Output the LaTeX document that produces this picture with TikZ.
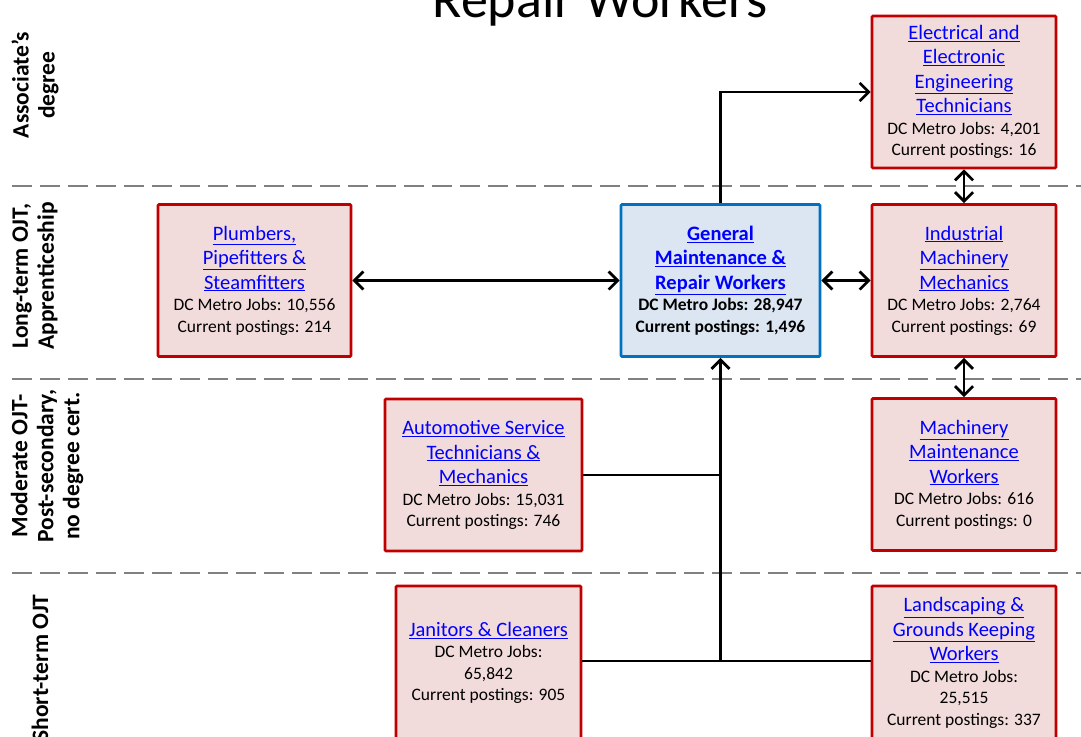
\documentclass[tikz,border=0pt]{standalone}
\usepackage{fontspec}
\setmainfont{Carlito}
\usetikzlibrary{arrows.meta}
\definecolor{jobfill}{HTML}{F2DCDB}
\definecolor{jobline}{HTML}{C00000}
\definecolor{corefill}{HTML}{DCE6F2}
\definecolor{coreline}{HTML}{0070C0}
\definecolor{linkblue}{HTML}{0000FF}
\definecolor{bandgray}{HTML}{808080}
\newcommand{\lnk}[1]{\textcolor{linkblue}{\underline{#1}}}
\newcommand{\namefont}{\fontsize{20.5}{24.5}\selectfont}
\newcommand{\numfont}{\fontsize{17.5}{22}\selectfont}
\tikzset{
  job/.style={draw=jobline,fill=jobfill,line width=2.6pt,rounded corners=1pt,
    minimum width=184pt,minimum height=152pt,align=center,inner sep=2pt,font=\namefont},
  core/.style={job,draw=coreline,fill=corefill,font=\namefont\bfseries},
  tier/.style={rotate=90,align=center,font=\fontsize{23.5}{26}\selectfont\bfseries},
  band/.style={draw=bandgray,line width=2.8pt,dash pattern=on 20pt off 8pt},
  link/.style={line width=2.8pt},
  >={Straight Barb[length=9pt,width=18pt,line width=2.8pt]}
}
\begin{document}
\begin{tikzpicture}[x=1pt,y=-1pt]
    \useasboundingbox (0,0) rectangle (1081,736);
    %% title (only its last line shows)
    \node[anchor=base,font=\fontsize{54}{60}\selectfont] (title) at (600,17) {Repair Workers};
    %% education bands
    \draw[band] (12,186) -- (1081,186);
    \draw[band] (12,379) -- (1081,379);
    \draw[band] (12,573) -- (1081,573);
    \node[tier] (assoc) at (35,85) {Associate’s\\degree};
    \node[tier] (longojt) at (35,276) {Long-term OJT,\\Apprenticeship};
    \node[tier] (modojt) at (47,466) {Moderate OJT-\\Post-secondary,\\no degree cert.};
    \node[tier] (shortojt) at (40,668) {Short-term OJT};
    %% occupations
    \node[job] (elec) at (964,92) {\lnk{Electrical and}\\\lnk{Electronic}\\\lnk{Engineering}\\\lnk{Technicians}\\[-3pt]\numfont DC Metro Jobs: 4,201\\[-3pt]\numfont Current postings: 16};
    \node[job,minimum width=193pt] (plumb) at (254.5,280.5) {\lnk{Plumbers,}\\\lnk{Pipefitters \&}\\\lnk{Steamfitters}\\[-3pt]\numfont DC Metro Jobs: 10,556\\[-3pt]\numfont Current postings: 214};
    \node[core,minimum width=199pt] (gen) at (720.5,280.5) {\lnk{General}\\\lnk{Maintenance \&}\\\lnk{Repair Workers}\\[-3pt]\numfont DC Metro Jobs: 28,947\\[-3pt]\numfont Current postings: 1,496};
    \node[job] (indus) at (964,280.5) {\lnk{Industrial}\\\lnk{Machinery}\\\lnk{Mechanics}\\[-3pt]\numfont DC Metro Jobs: 2,764\\[-3pt]\numfont Current postings: 69};
    \node[job,minimum width=197pt] (auto) at (483.5,475) {\lnk{Automotive Service}\\\lnk{Technicians \&}\\\lnk{Mechanics}\\[-3pt]\numfont DC Metro Jobs: 15,031\\[-3pt]\numfont Current postings: 746};
    \node[job] (mach) at (964,474.5) {\lnk{Machinery}\\\lnk{Maintenance}\\\lnk{Workers}\\[-3pt]\numfont DC Metro Jobs: 616\\[-3pt]\numfont Current postings: 0};
    \node[job,minimum width=185pt,minimum height=154pt] (jan) at (488.5,663) {\lnk{Janitors \& Cleaners}\\[-3pt]\numfont DC Metro Jobs:\\[-3pt]\numfont 65,842\\[-3pt]\numfont Current postings: 905};
    \node[job,minimum height=154pt] (land) at (964,663) {\lnk{Landscaping \&}\\\lnk{Grounds Keeping}\\\lnk{Workers}\\[-3pt]\numfont DC Metro Jobs:\\[-3pt]\numfont 25,515\\[-3pt]\numfont Current postings: 337};
    %% paths
    \draw[link,->] (gen.north) |- (elec.west);
    \draw[link,<->] (plumb.east) -- (gen.west);
    \draw[link,<->] (gen.east) -- (indus.west);
    \draw[link,<->] (elec.south) -- (indus.north);
    \draw[link,<->] (indus.south) -- (mach.north);
    \coordinate (hub) at (gen.south |- 0,661);
    \draw[link] (jan.east |- hub) -- (land.west |- hub);
    \draw[link] (auto.east) -- (auto.east -| gen.south);
    \draw[link,->] (hub) -- (gen.south);
\end{tikzpicture}
\end{document}
